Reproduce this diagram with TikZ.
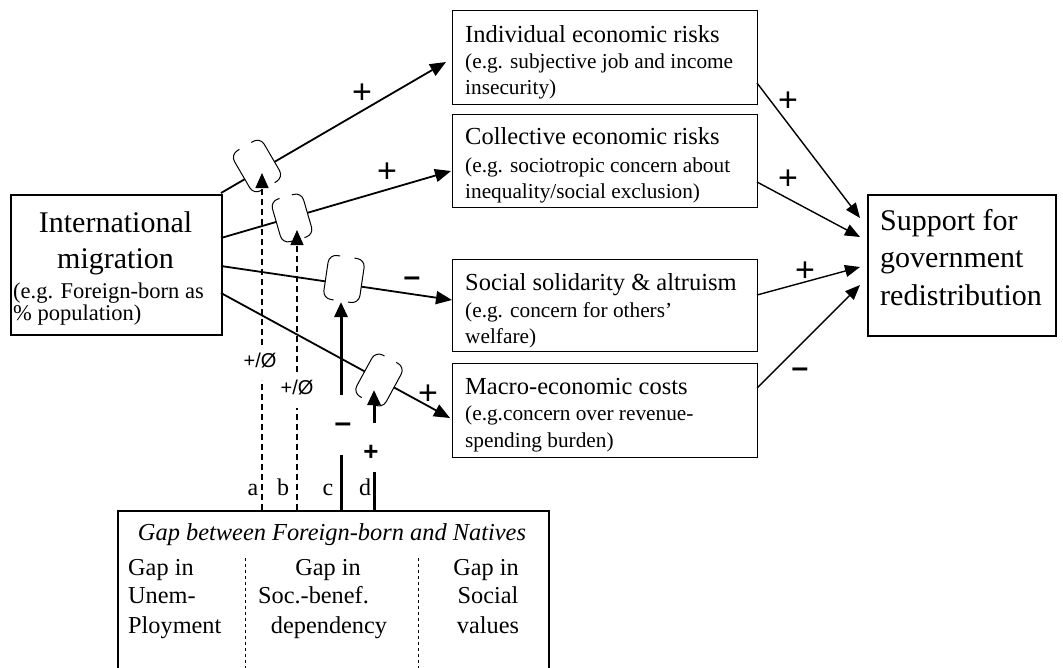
\documentclass[tikz,border=0pt]{standalone}
\usepackage{fontspec}
\setmainfont{Liberation Serif}
\newfontfamily\signfont{Liberation Sans}
\usetikzlibrary{arrows.meta,calc}
\newcommand\fs[2]{\fontsize{#1}{#2}\selectfont}
\newcommand\brsides[1]{%
  \draw[line width=1pt, rounded corners=8pt] ($(#1.north west)!0.3!(#1.north east)$) -- (#1.north west) -- (#1.south west) -- ($(#1.south west)!0.3!(#1.south east)$);
  \draw[line width=1pt, rounded corners=8pt] ($(#1.north east)!0.3!(#1.north west)$) -- (#1.north east) -- (#1.south east) -- ($(#1.south east)!0.3!(#1.south west)$);}
\begin{document}
\begin{tikzpicture}[x=1pt,y=-1pt,
  box/.style={draw, line width=1.2pt, rectangle, anchor=north west, inner sep=0pt},
  bigbox/.style={box, line width=2pt},
  txt/.style={anchor=base west, inner sep=0pt},
  ctxt/.style={anchor=base, inner sep=0pt},
  mainarr/.style={line width=1.8pt, -{Triangle[length=16pt,width=13pt]}},
  sidearr/.style={line width=1.4pt, -{Triangle[length=15pt,width=12pt]}},
  modarr/.style={line width=1.3pt, dash pattern=on 6pt off 4pt},
  modsolid/.style={line width=3pt},
  modtip/.style={-{Triangle[length=15pt,width=13pt]}},
  brk/.style={rectangle, fill=white, draw=none, inner sep=0pt},
  plus/.style={font=\signfont\fs{34}{34}, inner sep=0pt},
  minus/.style={font=\signfont\bfseries\fs{30}{30}, inner sep=0pt},
  small/.style={font=\signfont\fs{20}{20}, inner sep=0pt},
]
\useasboundingbox (0,0) rectangle (1063,667);
\clip (0,0) rectangle (1063,667);

% boxes
\node[bigbox, minimum width=211, minimum height=140] (mig) at (10,194) {};
\node[box, minimum width=305, minimum height=94] (ind) at (452,10) {};
\node[box, minimum width=305, minimum height=93] (col) at (452,114) {};
\node[box, minimum width=305, minimum height=92] (sol) at (452,259) {};
\node[box, minimum width=305, minimum height=94] (mac) at (452,363) {};
\node[bigbox, minimum width=188, minimum height=141] (sup) at (867,194) {};
\node[bigbox, minimum width=431, minimum height=200] (gap) at (117,510) {};

% texts
\node[ctxt] at (115.5,232) {\fs{30}{30}International};
\node[ctxt] at (115.5,268) {\fs{30}{30}migration};
\node[txt] at (13,298) {\fs{22.5}{22.5}(e.g. Foreign-born as};
\node[txt] at (13,320) {\fs{22.5}{22.5}\% population)};

\node[txt] at (465,42) {\fs{24.5}{24.5}Individual economic risks};
\node[txt] at (465,68) {\fs{21.3}{21.3}(e.g. subjective job and income};
\node[txt] at (465,94) {\fs{21.3}{21.3}insecurity)};

\node[txt] at (465,144) {\fs{24.5}{24.5}Collective economic risks};
\node[txt] at (465,172) {\fs{21.3}{21.3}(e.g. sociotropic concern about};
\node[txt] at (465,198) {\fs{21.3}{21.3}inequality/social exclusion)};

\node[txt] at (465,290) {\fs{24.5}{24.5}Social solidarity \& altruism};
\node[txt] at (465,317) {\fs{21.3}{21.3}(e.g. concern for others’};
\node[txt] at (465,343) {\fs{21.3}{21.3}welfare)};

\node[txt] at (465,394) {\fs{24.5}{24.5}Macro-economic costs};
\node[txt] at (465,420) {\fs{21.3}{21.3}(e.g.concern over revenue-};
\node[txt] at (465,447) {\fs{21.3}{21.3}spending burden)};

\node[txt] at (880,230) {\fs{30}{30}Support for};
\node[txt] at (880,267) {\fs{30}{30}government};
\node[txt] at (880,305) {\fs{30}{30}redistribution};

\node[ctxt] at (332,540) {\fs{24.4}{24.4}\itshape Gap between Foreign-born and Natives};
\node[txt] at (128,575) {\fs{24.3}{24.3}Gap in};
\node[txt] at (128,603) {\fs{24.3}{24.3}Unem-};
\node[txt] at (128,633) {\fs{24.3}{24.3}Ployment};
\node[ctxt] at (328,575) {\fs{24.3}{24.3}Gap in};
\node[ctxt] at (313.5,603) {\fs{24.3}{24.3}Soc.-benef.};
\node[ctxt] at (329,633) {\fs{24.3}{24.3}dependency};
\node[ctxt] at (486,575) {\fs{24.3}{24.3}Gap in};
\node[ctxt] at (488,603) {\fs{24.3}{24.3}Social};
\node[ctxt] at (488,633) {\fs{24.3}{24.3}values};
\draw[line width=0.8pt, dash pattern=on 3pt off 3pt] (245,558) -- (245,680);
\draw[line width=0.8pt, dash pattern=on 3pt off 3pt] (418,558) -- (418,680);

% connectors from migration
\coordinate (m1) at (221,193);
\coordinate (m2) at (221,238);
\coordinate (m3) at (221,266);
\coordinate (m4) at (221,293);
\coordinate (t1) at (446,62);
\coordinate (t2) at (451,171);
\coordinate (t3) at (452,300);
\coordinate (t4) at (450,418);
\draw[mainarr] (m1) -- (t1);
\draw[mainarr] (m2) -- (t2);
\draw[mainarr] (m3) -- (t3);
\draw[mainarr] (m4) -- (t4);

% brackets
\node[brk, rotate=30.2, minimum width=34, minimum height=46] (k1) at (257,166) {};
\node[brk, rotate=16.2, minimum width=32, minimum height=44] (k2) at (292,218) {};
\node[brk, rotate=-8.4, minimum width=36, minimum height=44] (k3) at (344,279) {};
\node[brk, rotate=-28.6, minimum width=33, minimum height=47] (k4) at (379,380) {};
\brsides{k1}
\brsides{k2}
\brsides{k3}
\brsides{k4}

% connectors to support
\coordinate (r1) at (757,83);
\coordinate (r2) at (757,182);
\coordinate (r3) at (757,295);
\coordinate (r4) at (757,388);
\coordinate (s1) at (860,218);
\coordinate (s2) at (860,237);
\coordinate (s3) at (860,267);
\coordinate (s4) at (860,285);
\draw[sidearr] (r1) -- (s1);
\draw[sidearr] (r2) -- (s2);
\draw[sidearr] (r3) -- (s3);
\draw[sidearr] (r4) -- (s4);

% moderators
\coordinate (a0) at (262,510); \coordinate (a1) at (262,380);
\coordinate (a2) at (262,345); \coordinate (a3) at (262,173);
\coordinate (b0) at (297,510); \coordinate (b1) at (297,408);
\coordinate (b2) at (297,372); \coordinate (b3) at (297,230);
\coordinate (c0) at (341,510); \coordinate (c1) at (341,455);
\coordinate (c2) at (341,395); \coordinate (c3) at (341,302);
\coordinate (d0) at (374,510); \coordinate (d1) at (374,472);
\coordinate (d2) at (374,423); \coordinate (d3) at (374,390);
\draw[modarr] (a0) -- (a1);
\draw[modarr, modtip] (a2) -- (a3);
\draw[modarr] (b0) -- (b1);
\draw[modarr, modtip] (b2) -- (b3);
\draw[modsolid] (c0) -- (c1);
\draw[modsolid, modtip] (c2) -- (c3);
\draw[modsolid] (d0) -- (d1);
\draw[modsolid, modtip] (d2) -- (d3);

\node[small] (la) at (260,361) {+/Ø};
\node[small] (lb) at (297,388) {+/Ø};
\node[minus] (lc) at (343,428) {–};
\node[font=\signfont\bfseries\fs{26}{26}, inner sep=0pt] (ld) at (371,453) {+};

\node[ctxt] at (253,495) {\fs{24}{24}a};
\node[ctxt] at (283,495) {\fs{24}{24}b};
\node[ctxt] at (328,495) {\fs{24}{24}c};
\node[ctxt] at (365,495) {\fs{24}{24}d};

% signs
\node[plus] at (362,94) {+};
\node[plus] at (387,173) {+};
\node[minus] at (412,282) {–};
\node[plus] at (428,395) {+};
\node[plus] at (788,102) {+};
\node[plus] at (788,180) {+};
\node[plus] at (805,272) {+};
\node[minus] at (800,373) {–};
\end{tikzpicture}
\end{document}
